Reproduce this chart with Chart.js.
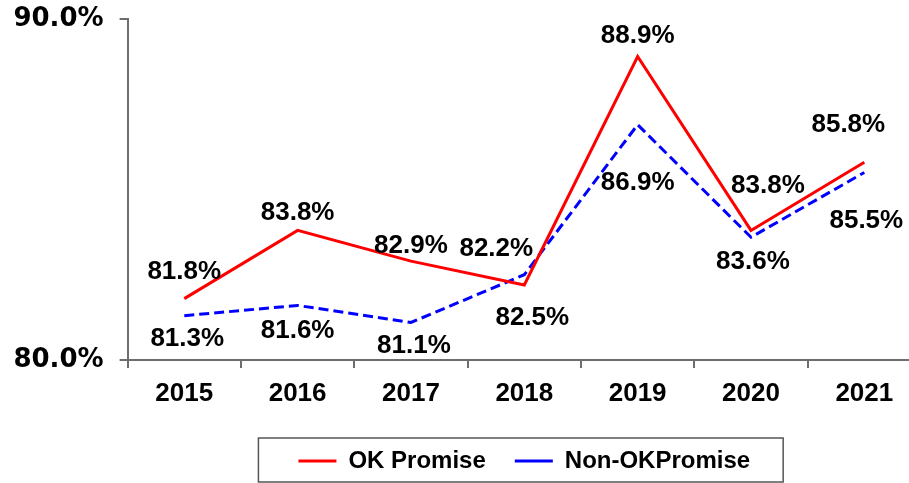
<!DOCTYPE html>
<html>
<head>
<meta charset="utf-8">
<script src="https://cdn.jsdelivr.net/npm/chart.js@4.4.1/dist/chart.umd.min.js"></script>
<style>
    html, body { margin: 0; padding: 0; background: #fff; overflow: hidden; }
    #wrap { position: relative; width: 921px; height: 483px; }
</style>
</head>
<body>
<div id="wrap"><canvas id="promiseChart"></canvas></div>
<script>
// chart data
const years = ['2015', '2016', '2017', '2018', '2019', '2020', '2021'];
const okPromise = [81.8, 83.8, 82.9, 82.2, 88.9, 83.8, 85.8];
const nonOkPromise = [81.3, 81.6, 81.1, 82.5, 86.9, 83.6, 85.5];
const yTickValues = [80, 90];

// nudges for the value labels (dx, dy from the point)
const okLabelShift = [[0, -27], [0, -18], [0, -15], [-28, -36], [0, -21], [17, -45], [-16, -37]];
const nonOkLabelShift = [[3, 23], [0, 25], [3, 23], [8, 43], [0, 58], [2, 25], [2, 48]];

const axisGray = '#6e6e6e';
const arialBold = 'Liberation Sans, Arial, sans-serif';

// draws "81.8%" style labels next to each point
const valueLabels = {
    id: 'valueLabels',
    afterDatasetsDraw(chart) {
        const ctx = chart.ctx;
        const shifts = [okLabelShift, nonOkLabelShift];
        ctx.save();
        ctx.font = 'bold 26px ' + arialBold;
        ctx.fillStyle = '#000';
        ctx.textAlign = 'center';
        ctx.textBaseline = 'middle';
        chart.data.datasets.forEach((ds, i) => {
            const meta = chart.getDatasetMeta(i);
            meta.data.forEach((pt, j) => {
                const s = shifts[i][j];
                ctx.fillText(ds.data[j].toFixed(1) + '%', pt.x + s[0], pt.y + s[1]);
            });
        });
        ctx.restore();
    }
};

// box around the legend
const legendFrame = {
    id: 'legendFrame',
    afterDraw(chart) {
        const lg = chart.legend;
        const boxes = lg.legendHitBoxes;
        if (!boxes || !boxes.length) return;
        const first = boxes[0];
        const last = boxes[boxes.length - 1];
        const ctx = chart.ctx;
        ctx.save();
        ctx.strokeStyle = '#555';
        ctx.lineWidth = 1.5;
        const left = first.left - 40;
        const right = last.left + last.width + 33;
        ctx.strokeRect(left, lg.top + 18, right - left, lg.bottom - lg.top - 19);
        ctx.restore();
    }
};

const ctx = document.getElementById('promiseChart').getContext('2d');
const promiseChart = new Chart(ctx, {
    type: 'line',
    data: {
        labels: years,
        datasets: [{
            label: 'OK Promise',
            data: okPromise,
            borderColor: '#ff0000',
            backgroundColor: '#ff0000',
            borderWidth: 3,
            pointRadius: 0,
            tension: 0
        }, {
            label: 'Non-OKPromise',
            data: nonOkPromise,
            borderColor: '#0000ff',
            backgroundColor: '#0000ff',
            borderWidth: 3,
            borderDash: [10, 5],
            pointRadius: 0,
            tension: 0
        }]
    },
    options: {
        responsive: true,
        maintainAspectRatio: false,
        animation: false,
        layout: { padding: { top: 19, left: 0, right: 0, bottom: 0 } },
        plugins: {
            tooltip: { enabled: false },
            legend: {
                position: 'bottom',
                fullSize: false,
                labels: {
                    usePointStyle: true,
                    pointStyle: 'line',
                    pointStyleWidth: 38,
                    boxHeight: 24,
                    padding: 29,
                    color: '#000',
                    font: { family: arialBold, size: 24, weight: 'bold' }
                }
            }
        },
        scales: {
            x: {
                offset: true,
                grid: {
                    offset: true,
                    drawOnChartArea: false,
                    tickLength: 8,
                    color: axisGray,
                    lineWidth: 2
                },
                border: { color: axisGray, width: 2 },
                ticks: {
                    color: '#000',
                    padding: 10,
                    maxRotation: 0,
                    font: { family: arialBold, size: 26, weight: 'bold' }
                },
                afterFit: (scale) => {
                    scale.height = 60;
                    scale.paddingLeft = 0;
                    scale.paddingRight = 0;
                }
            },
            y: {
                min: 80,
                max: 90,
                afterBuildTicks: (scale) => {
                    scale.ticks = yTickValues.map(v => ({ value: v }));
                },
                grid: {
                    drawOnChartArea: false,
                    tickLength: 8,
                    color: axisGray,
                    lineWidth: 2
                },
                border: { color: axisGray, width: 2 },
                ticks: {
                    color: '#000',
                    padding: 16,
                    font: { family: 'DejaVu Sans', size: 26, weight: 'bold' },
                    callback: (v) => Number(v).toFixed(1) + '%'
                },
                afterFit: (scale) => {
                    scale.width = 127.6;
                    scale.paddingTop = 0;
                    scale.paddingBottom = 0;
                }
            }
        }
    },
    plugins: [valueLabels, legendFrame]
});
</script>
</body>
</html>
